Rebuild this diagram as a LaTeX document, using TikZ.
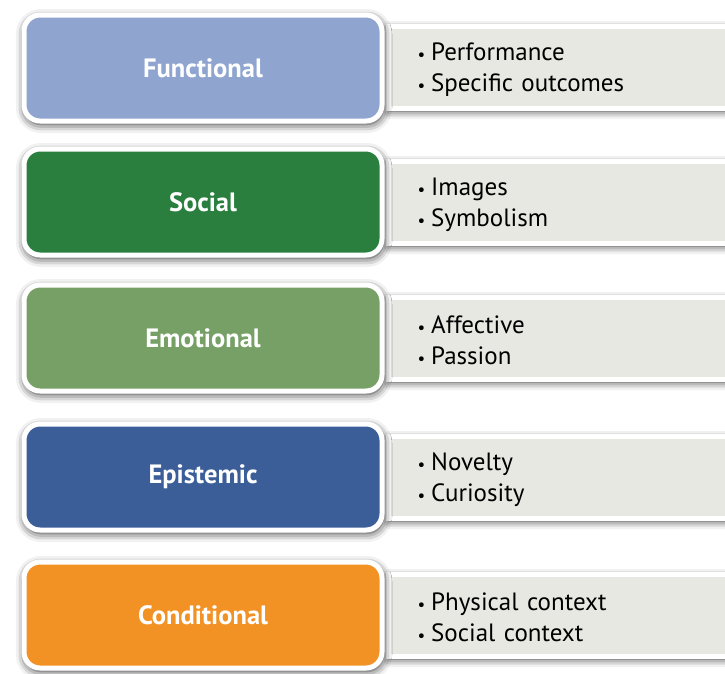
\documentclass[tikz,border=0pt]{standalone}
\usepackage{fontspec}
\setmainfont{PT Sans}
\usetikzlibrary{shadows.blur}
\definecolor{funcblue}{HTML}{8FA5CF}
\definecolor{socgreen}{HTML}{2A7F3F}
\definecolor{emogreen}{HTML}{77A066}
\definecolor{epiblue}{HTML}{3B5E98}
\definecolor{condorange}{HTML}{F39224}
\definecolor{listgrey}{HTML}{E8E8E2}
\newcommand{\dotitem}{{\fontsize{17}{17}\selectfont\textbullet}\hspace{6pt}}
\newcommand{\topstrut}{\rule{0pt}{23pt}}
\tikzset{
  valuebox/.style = {draw = white, line width = 5pt, rounded corners = 16pt,
    minimum width = 358pt, minimum height = 106pt, text = white,
    font = \fontsize{26.5}{30}\selectfont\bfseries,
    blur shadow = {shadow xshift = 1pt, shadow yshift = -3pt,
      shadow blur radius = 9pt, shadow opacity = 85}},
  listbox/.style = {draw = white, line width = 5pt, fill = listgrey, anchor = west,
    minimum width = 350pt, minimum height = 82pt, text width = 300pt,
    align = left, inner xsep = 29pt, font = \fontsize{25}{31}\selectfont,
    blur shadow = {shadow xshift = 1pt, shadow yshift = -3pt,
      shadow blur radius = 8pt, shadow opacity = 85}}
}
\begin{document}
\begin{tikzpicture}[x = 1pt, y = -1pt]
	\useasboundingbox (0, 0) rectangle (725, 673);
	% the lists on the right
	\node[listbox] (funclist) at (386, 67)  {\topstrut\dotitem Performance\\\dotitem Specific outcomes};
	\node[listbox] (soclist)  at (386, 202) {\topstrut\dotitem Images\\\dotitem Symbolism};
	\node[listbox] (emolist)  at (386, 338) {\topstrut\dotitem Affective\\\dotitem Passion};
	\node[listbox] (epilist)  at (386, 477) {\topstrut\dotitem Novelty\\\dotitem Curiosity};
	\node[listbox] (condlist) at (386, 615) {\topstrut\dotitem Physical context\\\dotitem Social context};
	% the five values
	\node[valuebox, fill = funcblue]   (func) at (203, 68)  {Functional};
	\node[valuebox, fill = socgreen]   (soc)  at (203, 202) {Social};
	\node[valuebox, fill = emogreen]   (emo)  at (203, 338) {Emotional};
	\node[valuebox, fill = epiblue]    (epi)  at (203, 477) {Epistemic};
	\node[valuebox, fill = condorange] (cond) at (203, 615) {Conditional};
\end{tikzpicture}
\end{document}
